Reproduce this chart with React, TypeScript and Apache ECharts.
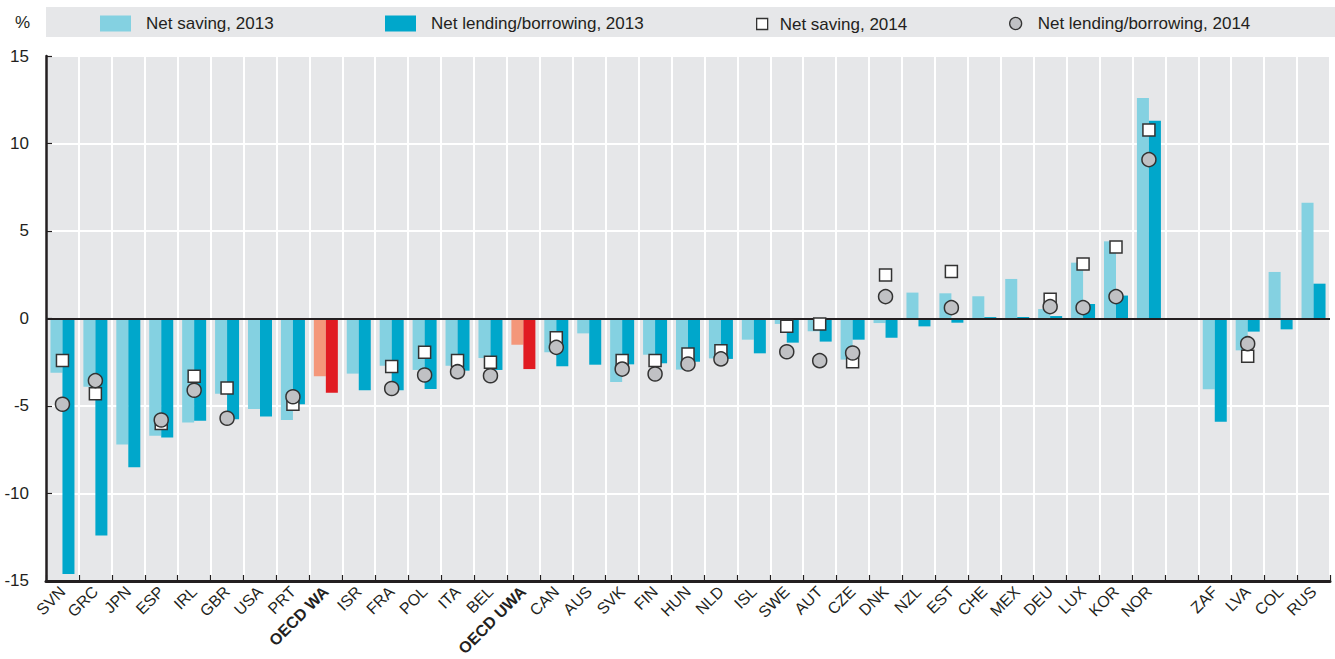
import React, { useEffect, useRef } from "react";
import * as echarts from "echarts";

const categories = ["SVN","GRC","JPN","ESP","IRL","GBR","USA","PRT","OECD WA","ISR","FRA","POL","ITA","BEL","OECD UWA","CAN","AUS","SVK","FIN","HUN","NLD","ISL","SWE","AUT","CZE","DNK","NZL","EST","CHE","MEX","DEU","LUX","KOR","NOR","","ZAF","LVA","COL","RUS"];

const netSaving2013 = [-3.1,-3.9,-7.2,-6.7,-5.95,-4.3,-5.17,-5.8,-3.3,-3.15,-2.7,-2.94,-2.7,-2.26,-1.5,-1.93,-0.85,-3.63,-2.07,-2.92,-2.28,-1.21,-0.31,-0.73,-2.35,-0.26,1.48,1.44,1.27,2.26,0.54,3.19,4.41,12.6,null,-4.05,-1.82,2.66,6.62];

const netLending2013 = [-14.6,-12.4,-8.5,-6.8,-5.84,-5.76,-5.6,-4.9,-4.24,-4.1,-4.1,-4.03,-2.98,-2.94,-2.89,-2.73,-2.64,-2.62,-2.56,-2.47,-2.31,-1.99,-1.38,-1.32,-1.21,-1.1,-0.45,-0.24,0.08,0.08,0.14,0.83,1.31,11.3,null,-5.9,-0.75,-0.62,1.99];

const netSaving2014 = [-2.4,-4.3,null,-6.0,-3.3,-3.97,null,-4.9,null,null,-2.75,-1.93,-2.4,-2.5,null,-1.1,null,-2.4,-2.4,-2.03,-1.84,null,-0.45,-0.31,-2.47,2.49,null,2.68,null,null,1.1,3.11,4.09,10.77,null,null,-2.16,null,null];

const netLending2014 = [-4.9,-3.55,null,-5.8,-4.1,-5.7,null,-4.47,null,null,-4.0,-3.23,-3.04,-3.27,null,-1.65,null,-2.89,-3.17,-2.6,-2.31,null,-1.9,-2.41,-1.97,1.25,null,0.62,null,null,0.68,0.62,1.25,9.08,null,null,-1.44,null,null];

const highlighted = ["OECD WA", "OECD UWA"];

const FONT = "'Liberation Sans', Arial, sans-serif";
const TXT = "#231f20";
const LIGHT = "#84d1e1";
const DARK = "#00a7cb";
const LIGHT_HI = "#f4977a";
const DARK_HI = "#e11b22";

export default function App() {
  const ref = useRef<HTMLDivElement>(null);
  useEffect(() => {
    if (!ref.current) return;
    const chart = echarts.init(ref.current, undefined, { renderer: "svg" });
    const barData = (vals: (number | null)[], hi: string) =>
      vals.map((v, i) =>
        highlighted.includes(categories[i]) ? { value: v, itemStyle: { color: hi } } : v
      );
    const legendText = { fontFamily: FONT, fontSize: 17, color: TXT };
    chart.setOption({
      animation: false,
      textStyle: { fontFamily: FONT },
      graphic: [
        { type: "rect", z: -10, silent: true, shape: { x: 46, y: 7, width: 1289, height: 30 }, style: { fill: "#e6e7e9" } },
        { type: "text", silent: true, x: 15, y: 22, style: { text: "%", fontSize: 17, fontFamily: FONT, fill: TXT, verticalAlign: "middle" } },
      ],
      legend: [
        { left: 100, top: 15, padding: 0, itemWidth: 31, itemHeight: 16, selectedMode: false, data: [{ name: "Net saving, 2013", icon: "rect" }], textStyle: { ...legendText, padding: [0, 0, 0, 10] } },
        { left: 385, top: 15, padding: 0, itemWidth: 31, itemHeight: 16, selectedMode: false, data: [{ name: "Net lending/borrowing, 2013", icon: "rect" }], textStyle: { ...legendText, padding: [0, 0, 0, 10] } },
        { left: 756, top: 15.5, padding: 0, itemWidth: 11, itemHeight: 11, selectedMode: false, data: [{ name: "Net saving, 2014", icon: "rect", itemStyle: { color: "#fff", borderColor: "#333", borderWidth: 1.3 } }], textStyle: { ...legendText, padding: [0, 0, 0, 7] } },
        { left: 1009, top: 15, padding: 0, itemWidth: 12, itemHeight: 12, selectedMode: false, data: [{ name: "Net lending/borrowing, 2014", icon: "circle", itemStyle: { color: "#c0c1c4", borderColor: "#333", borderWidth: 1.3 } }], textStyle: { ...legendText, padding: [0, 0, 0, 11] } },
      ],
      grid: { left: 46, right: 5, top: 56, bottom: 77, show: true, backgroundColor: "#e6e7e9", borderWidth: 0 },
      xAxis: {
        type: "category",
        data: categories,
        position: "bottom",
        axisLine: { onZero: false, lineStyle: { color: TXT, width: 3 } },
        axisTick: { show: true, inside: true, length: 6, interval: 0, lineStyle: { color: TXT, width: 1.2 } },
        splitLine: { show: true, interval: 0, lineStyle: { color: "#ffffff", width: 2 } },
        axisLabel: {
          interval: 0,
          rotate: 45,
          margin: 8,
          fontSize: 16,
          color: TXT,
          fontFamily: FONT,
          formatter: (v: string) => (highlighted.includes(v) ? `{b|${v}}` : v),
          rich: { b: { fontWeight: "bold", fontSize: 16, color: TXT, fontFamily: FONT } },
        },
      },
      yAxis: {
        type: "value",
        min: -15,
        max: 15,
        interval: 5,
        axisLine: { show: true, lineStyle: { color: TXT, width: 2.5 } },
        axisTick: { show: true, inside: true, length: 6, lineStyle: { color: TXT, width: 1.2 } },
        splitLine: { show: true, lineStyle: { color: "#ffffff", width: 2 } },
        axisLabel: { fontSize: 17, color: TXT, margin: 17, fontFamily: FONT },
      },
      series: [
        {
          name: "Net saving, 2013",
          type: "bar",
          data: barData(netSaving2013, LIGHT_HI),
          itemStyle: { color: LIGHT },
          barWidth: 12,
          barGap: 0,
        },
        {
          name: "Net lending/borrowing, 2013",
          type: "bar",
          data: barData(netLending2013, DARK_HI),
          itemStyle: { color: DARK },
          barWidth: 12,
          barGap: 0,
          markLine: {
            silent: true,
            symbol: "none",
            label: { show: false },
            lineStyle: { color: TXT, width: 2, type: "solid" },
            data: [{ yAxis: 0 }],
          },
        },
        {
          name: "Net saving, 2014",
          type: "scatter",
          symbol: "rect",
          symbolSize: 12,
          data: netSaving2014,
          itemStyle: { color: "#ffffff", borderColor: "#333333", borderWidth: 1.5, opacity: 1 },
          z: 5,
        },
        {
          name: "Net lending/borrowing, 2014",
          type: "scatter",
          symbol: "circle",
          symbolSize: 14,
          data: netLending2014,
          itemStyle: { color: "#c0c1c4", borderColor: "#333333", borderWidth: 1.5, opacity: 1 },
          z: 6,
        },
      ],
    });
    return () => chart.dispose();
  }, []);
  return <div ref={ref} style={{ position: "absolute", left: 0, top: 0, width: 1335, height: 659 }} />;
}
